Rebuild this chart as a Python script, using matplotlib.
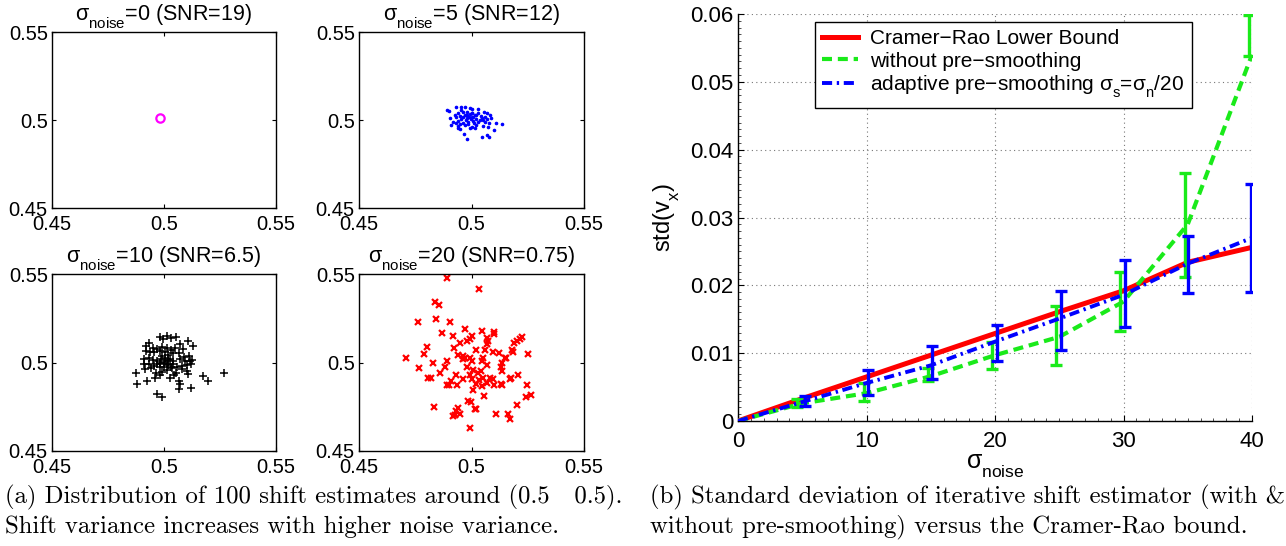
import matplotlib
matplotlib.use('Agg')
import matplotlib.pyplot as plt
from matplotlib.lines import Line2D
from matplotlib.ticker import MultipleLocator

try:
    import matplotlib._mathtext as _mt
    _mt.FontConstantsBase.sub1 = 0.7
except Exception:
    pass

plt.rcParams['font.family'] = ['Liberation Sans', 'DejaVu Sans']
plt.rcParams['mathtext.fontset'] = 'custom'
plt.rcParams['mathtext.rm'] = 'Liberation Sans'
plt.rcParams['mathtext.it'] = 'Liberation Sans'
plt.rcParams['mathtext.bf'] = 'Liberation Sans:bold'
plt.rcParams['mathtext.sf'] = 'Liberation Sans'
plt.rcParams['axes.unicode_minus'] = False

# ---------------- data: scatter panels ----------------
panel_titles = [r'$\sigma_{\mathrm{noise}}$=0 (SNR=19)',
                r'$\sigma_{\mathrm{noise}}$=5 (SNR=12)',
                r'$\sigma_{\mathrm{noise}}$=10 (SNR=6.5)',
                r'$\sigma_{\mathrm{noise}}$=20 (SNR=0.75)']
scatter_ticks = [0.45, 0.5, 0.55]
scatter_ticklabels = ['0.45', '0.5', '0.55']

s0_x = [0.4984]
s0_y = [0.5010]

s5_x = [0.4901, 0.4929, 0.4953, 0.4973, 0.4993, 0.5000, 0.4938, 0.4963, 0.4981, 0.5004,
        0.5030, 0.5056, 0.5070, 0.4926, 0.4948, 0.4970, 0.4993, 0.5015, 0.5040, 0.5062,
        0.4904, 0.4933, 0.4955, 0.4978, 0.5000, 0.5022, 0.5045, 0.5086, 0.4918, 0.4941,
        0.4963, 0.4985, 0.5007, 0.5030, 0.5052, 0.5079, 0.5108, 0.5134, 0.4911, 0.4941,
        0.4970, 0.5000, 0.5022, 0.5049, 0.5074, 0.4948, 0.4993, 0.5099, 0.4966, 0.5045,
        0.5067, 0.5079, 0.4982, 0.4889, 0.4978, 0.4990, 0.5007, 0.4996, 0.5010, 0.4975,
        0.4985, 0.4960, 0.5022, 0.5037, 0.5059, 0.4933, 0.4951, 0.5015, 0.5067, 0.5001,
        0.4955, 0.5030, 0.5082, 0.4941]
s5_y = [0.5053, 0.5072, 0.5075, 0.5072, 0.5066, 0.5060, 0.5042, 0.5047, 0.5047, 0.5042,
        0.5042, 0.5047, 0.5042, 0.5028, 0.5023, 0.5028, 0.5032, 0.5028, 0.5025, 0.5019,
        0.5009, 0.5015, 0.5004, 0.5009, 0.5015, 0.5004, 0.5009, 0.5009, 0.4991, 0.4996,
        0.4985, 0.4991, 0.4996, 0.4991, 0.5000, 0.4985, 0.4981, 0.4977, 0.4972, 0.4966,
        0.4972, 0.4962, 0.4972, 0.4966, 0.4962, 0.4947, 0.4953, 0.4943, 0.4921, 0.4906,
        0.4915, 0.4906, 0.4894, 0.5057, 0.5028, 0.5015, 0.5019, 0.5004, 0.4985, 0.5000,
        0.4977, 0.5015, 0.5028, 0.5000, 0.4991, 0.4981, 0.4977, 0.4953, 0.5004, 0.5038,
        0.5057, 0.5060, 0.5028, 0.4953]

s10_x = [0.4983, 0.4995, 0.5013, 0.5030, 0.5053, 0.5109, 0.5129, 0.4919, 0.4931, 0.4953,
         0.4968, 0.4990, 0.5013, 0.5030, 0.5050, 0.5072, 0.5084, 0.4919, 0.4938, 0.4956,
         0.4980, 0.5005, 0.5020, 0.5042, 0.5069, 0.5090, 0.5111, 0.5124, 0.4909, 0.4931,
         0.4950, 0.4968, 0.4986, 0.5005, 0.5027, 0.5042, 0.5072, 0.5094, 0.5117, 0.4912,
         0.4935, 0.4956, 0.4980, 0.4998, 0.5020, 0.5039, 0.5057, 0.5079, 0.5102, 0.5120,
         0.4916, 0.4941, 0.4965, 0.4990, 0.5013, 0.5035, 0.5054, 0.5079, 0.5102, 0.5109,
         0.4876, 0.4923, 0.4879, 0.4961, 0.4983, 0.5027, 0.5045, 0.5065, 0.5072, 0.5069,
         0.5120, 0.5173, 0.5198, 0.5270, 0.4968, 0.4993, 0.4968, 0.4998, 0.4983, 0.5013,
         0.5020, 0.5030, 0.5005, 0.4990, 0.4980]
s10_y = [0.5145, 0.5132, 0.5149, 0.5138, 0.5142, 0.5119, 0.5094, 0.5094, 0.5108, 0.5081,
         0.5075, 0.5089, 0.5081, 0.5070, 0.5081, 0.5104, 0.5075, 0.5066, 0.5062, 0.5057,
         0.5066, 0.5057, 0.5043, 0.5051, 0.5051, 0.5032, 0.5038, 0.5013, 0.5019, 0.5025,
         0.5013, 0.5006, 0.5019, 0.5009, 0.5019, 0.5006, 0.5019, 0.5006, 0.5009, 0.4991,
         0.4994, 0.4981, 0.4991, 0.4972, 0.4987, 0.4994, 0.4975, 0.4981, 0.4987, 0.4991,
         0.4962, 0.4968, 0.4943, 0.4949, 0.4957, 0.4968, 0.4943, 0.4962, 0.4953, 0.4934,
         0.4938, 0.4896, 0.4881, 0.4915, 0.4930, 0.4911, 0.4930, 0.4896, 0.4877, 0.4849,
         0.4855, 0.4925, 0.4896, 0.4938, 0.4821, 0.4806, 0.4994, 0.5000, 0.4972, 0.4994,
         0.5013, 0.4975, 0.5028, 0.5038, 0.5000]

s20_x = [0.4893, 0.5034, 0.4837, 0.4856, 0.4764, 0.4840, 0.4904, 0.4970, 0.4869, 0.4917,
         0.5045, 0.5099, 0.5102, 0.5000, 0.4993, 0.5067, 0.5226, 0.5215, 0.5200, 0.5190,
         0.4800, 0.4924, 0.4948, 0.4978, 0.5074, 0.5067, 0.5022, 0.5059, 0.5096, 0.5123,
         0.5153, 0.5178, 0.5185, 0.5251, 0.4711, 0.4789, 0.4829, 0.4960, 0.4963, 0.4972,
         0.4993, 0.5004, 0.5045, 0.5052, 0.5067, 0.5135, 0.5148, 0.5131, 0.5135, 0.4767,
         0.4807, 0.4822, 0.4884, 0.4862, 0.4930, 0.4911, 0.4901, 0.4936, 0.4993, 0.5007,
         0.5031, 0.5040, 0.5052, 0.5034, 0.5022, 0.5045, 0.5082, 0.5096, 0.5099, 0.5129,
         0.5136, 0.5171, 0.5175, 0.5208, 0.5248, 0.5264, 0.5242, 0.5055, 0.5007, 0.4985,
         0.4996, 0.5015, 0.5022, 0.4941, 0.4933, 0.4926, 0.4948, 0.4993, 0.4832, 0.5107,
         0.5171, 0.5163, 0.5200, 0.4893, 0.4963, 0.5000, 0.5071, 0.4978, 0.4889, 0.4918,
         0.4941]
s20_y = [0.5475, 0.5413, 0.5342, 0.5326, 0.5228, 0.5243, 0.5230, 0.5189, 0.5166, 0.5147,
         0.5179, 0.5175, 0.5160, 0.5151, 0.5132, 0.5138, 0.5145, 0.5132, 0.5123, 0.5111,
         0.5089, 0.5081, 0.5108, 0.5119, 0.5123, 0.5104, 0.5070, 0.5072, 0.5060, 0.5051,
         0.5025, 0.5072, 0.5060, 0.5047, 0.5028, 0.5047, 0.5000, 0.5038, 0.5019, 0.5028,
         0.5025, 0.5009, 0.5006, 0.5028, 0.4987, 0.5000, 0.5028, 0.4972, 0.4953, 0.4968,
         0.4911, 0.4911, 0.4972, 0.4938, 0.4930, 0.4896, 0.4872, 0.4874, 0.4930, 0.4957,
         0.4938, 0.4953, 0.4915, 0.4900, 0.4877, 0.4868, 0.4915, 0.4906, 0.4872, 0.4877,
         0.4874, 0.4906, 0.4915, 0.4930, 0.4874, 0.4815, 0.4806, 0.4808, 0.4845, 0.4783,
         0.4779, 0.4740, 0.4736, 0.4745, 0.4726, 0.4704, 0.4708, 0.4628, 0.4749, 0.4711,
         0.4679, 0.4708, 0.4760, 0.4872, 0.4906, 0.4906, 0.4887, 0.4972, 0.5009, 0.4698,
         0.5043]

# ---------------- data: std vs noise panel ----------------
sigma_noise = [0, 5, 10, 15, 20, 25, 30, 35, 40]
crlb = [0.0, 0.0033, 0.0065, 0.0097, 0.0129, 0.0161, 0.0192, 0.0234, 0.0256]
std_without = [0.0, 0.0026, 0.0041, 0.0066, 0.0097, 0.0124, 0.0176, 0.0290, 0.0540]
std_adaptive = [0.0, 0.0028, 0.0056, 0.0082, 0.0117, 0.0151, 0.0186, 0.0232, 0.0270]

green_err_x = [4.6, 9.8, 14.8, 19.8, 24.75, 29.7, 34.75, 39.75]
green_lo = [0.0020, 0.0029, 0.0059, 0.0076, 0.0083, 0.0132, 0.0212, 0.0538]
green_hi = [0.0032, 0.0056, 0.0078, 0.0117, 0.0169, 0.0219, 0.0365, 0.0598]
blue_err_x = [5.2, 10.15, 15.1, 20.15, 25.1, 30.15, 35.05, 39.95]
blue_lo = [0.0022, 0.0038, 0.0062, 0.0088, 0.0105, 0.0139, 0.0188, 0.0190]
blue_hi = [0.0037, 0.0075, 0.0111, 0.0142, 0.0191, 0.0238, 0.0273, 0.0350]

legend_labels = ['Cramer\u2212Rao Lower Bound', 'without pre\u2212smoothing',
                 'adaptive pre\u2212smoothing ' + r'$\sigma_{\mathrm{s}}$=$\sigma_{\mathrm{n}}$/20']

caption_a = ['(a) Distribution of 100 shift estimates around (0.5   0.5).',
             'Shift variance increases with higher noise variance.']
caption_b = ['(b) Standard deviation of iterative shift estimator (with &',
             'without pre-smoothing) versus the Cramer-Rao bound.']

# ---------------- figure ----------------
W, H = 1286, 546
fig = plt.figure(figsize=(W / 100, H / 100), dpi=100)


def px_axes(x0, y0, x1, y1):
    return fig.add_axes([x0 / W, 1 - y1 / H, (x1 - x0) / W, (y1 - y0) / H])


boxes = [(52, 32, 276, 208), (359, 32, 584, 208),
         (52, 274, 276, 451), (359, 274, 584, 451)]
scatter_data = [(s0_x, s0_y, dict(marker='o', color='#ff00ff', ms=6, mfc='none', mew=1.6, ls='none')),
                (s5_x, s5_y, dict(marker='.', color='#0000ff', ms=3.2, ls='none')),
                (s10_x, s10_y, dict(marker='+', color='black', ms=6, mew=1.1, ls='none')),
                (s20_x, s20_y, dict(marker='x', color='#ff0000', ms=4.8, mew=1.6, ls='none'))]

for box, title, (xs, ys, style) in zip(boxes, panel_titles, scatter_data):
    ax = px_axes(*box)
    ax.plot(xs, ys, **style)
    ax.set_xlim(0.45, 0.55)
    ax.set_ylim(0.45, 0.55)
    ax.set_xticks(scatter_ticks)
    ax.set_xticklabels(scatter_ticklabels)
    ax.set_yticks(scatter_ticks)
    ax.set_yticklabels(scatter_ticklabels)
    ax.tick_params(direction='in', top=True, right=True, length=3, width=0.8,
                   labelsize=14.5, colors='black')
    ax.tick_params(axis='x', pad=5)
    ax.tick_params(axis='y', pad=3)
    for sp in ax.spines.values():
        sp.set_linewidth(1.0)
        sp.set_color('black')
    ax.annotate(title, xy=(0.5, 1.0), xycoords='axes fraction', xytext=(0, 8),
                textcoords='offset points', ha='center', va='baseline', fontsize=15.5)

# ---------------- right panel ----------------
ax = px_axes(738, 14, 1252, 421)
green = '#1aea1a'
blue = '#0000ff'
red = '#ff0000'

ax.plot(sigma_noise, crlb, color=red, lw=3.6, solid_capstyle='butt', zorder=3)
ax.plot(sigma_noise, std_without, color=green, lw=3.0, dashes=(2.4, 1.4), zorder=3)
g_mid = [(a + b) / 2 for a, b in zip(green_lo, green_hi)]
g_err = [[m - a for m, a in zip(g_mid, green_lo)], [b - m for m, b in zip(g_mid, green_hi)]]
ax.errorbar(green_err_x, g_mid, yerr=g_err, fmt='none', ecolor=green, elinewidth=2.4,
            capsize=4, capthick=2.4, zorder=4)
ax.plot(sigma_noise, std_adaptive, color=blue, lw=2.8, dashes=(2.6, 1.2, 0.6, 1.2), zorder=5)
b_mid = [(a + b) / 2 for a, b in zip(blue_lo, blue_hi)]
b_err = [[m - a for m, a in zip(b_mid, blue_lo)], [b - m for m, b in zip(b_mid, blue_hi)]]
ax.errorbar(blue_err_x, b_mid, yerr=b_err, fmt='none', ecolor=blue, elinewidth=2.4,
            capsize=4, capthick=2.4, zorder=6)

ax.set_xlim(0, 40)
ax.set_ylim(0, 0.06)
ax.set_xticks([0, 10, 20, 30, 40])
ax.set_xticklabels(['0', '10', '20', '30', '40'])
ax.set_yticks([0, 0.01, 0.02, 0.03, 0.04, 0.05, 0.06])
ax.set_yticklabels(['0', '0.01', '0.02', '0.03', '0.04', '0.05', '0.06'])
ax.xaxis.set_minor_locator(MultipleLocator(1))
ax.yaxis.set_minor_locator(MultipleLocator(0.001))
ax.tick_params(which='major', direction='in', length=4, width=0.8, labelsize=16, colors='black')
ax.tick_params(which='minor', direction='in', length=2, width=0.6, colors='#333333')
ax.tick_params(axis='x', which='major', pad=7)
ax.tick_params(axis='y', which='major', pad=3)
ax.spines['top'].set_visible(False)
ax.spines['right'].set_visible(False)
for s in ('left', 'bottom'):
    ax.spines[s].set_linewidth(1.0)
    ax.spines[s].set_color('black')
ax.grid(True, which='major', color='#777777', linestyle=(0, (1, 3)), linewidth=0.8)
ax.set_axisbelow(True)

ax.set_xlabel(r'$\sigma_{\mathrm{noise}}$', fontsize=18, labelpad=0)
ax.set_ylabel(r'std(v$_{\mathrm{x}}$)', fontsize=17, labelpad=6)

handles = [Line2D([], [], color=red, lw=3.6),
           Line2D([], [], color=green, lw=3.0, dashes=(2.4, 1.4)),
           Line2D([], [], color=blue, lw=2.8, dashes=(2.6, 1.2, 0.6, 1.2))]
leg = ax.legend(handles, legend_labels, loc='upper left', bbox_to_anchor=(0.15, 0.98),
                fontsize=15, frameon=True, fancybox=False, framealpha=1, edgecolor='black',
                handlelength=1.7, handletextpad=0.6, labelspacing=0.15, borderpad=0.35,
                borderaxespad=0)
leg.get_frame().set_linewidth(1.0)

# ---------------- captions ----------------
renderer = fig.canvas.get_renderer()


def caption(lines, x, ys, target_w):
    texts = [fig.text(x / W, 1 - y / H, s, fontsize=10, family='cmr10', va='center', ha='left')
             for s, y in zip(lines, ys)]
    w = texts[0].get_window_extent(renderer).width
    fs = 10 * target_w / w
    for t in texts:
        t.set_fontsize(fs)


caption(caption_a, 5, [497, 527], 617)
caption(caption_b, 650, [497, 527], 633)

fig.savefig('out.png', dpi=100)
